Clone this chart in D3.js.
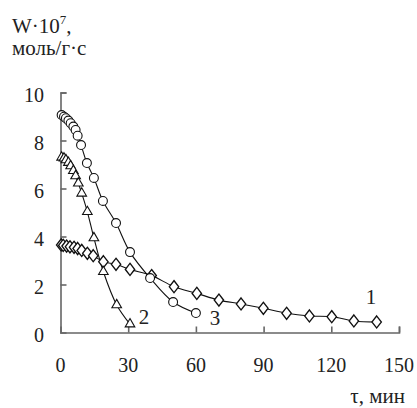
<!DOCTYPE html>
<html>
<head>
<meta charset="utf-8">
<script src="https://cdn.jsdelivr.net/npm/d3@7"></script>
<style>
  html, body { margin: 0; padding: 0; background: #fff; }
  #chart text { font-family: "Liberation Serif", "Times New Roman", "DejaVu Serif", serif; fill: #222; }
</style>
</head>
<body>
<svg id="chart" width="417" height="408"></svg>
<script>
// Reaction rate W·10^7 (моль/г·с) against time τ (мин), three runs.
const xTicks = [0, 30, 60, 90, 120, 150];
const yTicks = [0, 2, 4, 6, 8, 10];

// Run 1 (diamonds)
const t1 = [0.3, 1.2, 2.7, 4.2, 6, 7.6, 9.4, 11.9, 14.5, 19, 24.6, 30.8, 40.4, 50.3, 60.4, 70.2, 80, 89.9, 100.2, 110.3, 120.2, 130, 140.1];
const w1 = [3.65, 3.63, 3.6, 3.57, 3.55, 3.5, 3.42, 3.3, 3.2, 2.95, 2.84, 2.63, 2.37, 1.91, 1.63, 1.35, 1.19, 1.01, 0.8, 0.69, 0.66, 0.48, 0.44];

// Run 2 (triangles)
const t2 = [0.5, 1.55, 2.4, 3.5, 4.5, 5.7, 6.7, 7.9, 9.4, 11.9, 14.8, 19, 24.9, 30.8];
const w2 = [7.3, 7.26, 7.19, 7.08, 6.94, 6.74, 6.52, 6.22, 5.8, 5.03, 3.94, 2.53, 1.15, 0.35];

// Run 3 (circles)
const t3 = [0.5, 1.55, 2.4, 3.5, 4.5, 5.7, 6.7, 7.6, 9.1, 11.7, 14.8, 18.8, 24.6, 30.8, 39.7, 49.9, 60];
const w3 = [9.06, 8.99, 8.93, 8.83, 8.72, 8.58, 8.44, 8.2, 7.81, 7.06, 6.44, 5.48, 4.56, 3.35, 2.27, 1.27, 0.81];

const svg = d3.select("#chart");
const x = d3.scaleLinear().domain([0, 150]).range([60.5, 399]);
const y = d3.scaleLinear().domain([0, 10]).range([332.5, 92.5]);

const axisColor = "#666";

// Axes: ticks point inward, labels placed separately
const xAxis = svg.append("g").attr("transform", `translate(0,${y(0)})`)
  .call(d3.axisBottom(x).tickValues(xTicks).tickSize(-6).tickFormat(""));
const yAxis = svg.append("g").attr("transform", `translate(${x(0)},0)`)
  .call(d3.axisLeft(y).tickValues(yTicks).tickSize(-6).tickFormat(""));
[xAxis, yAxis].forEach(g => {
  g.select(".domain").attr("stroke", axisColor).attr("stroke-width", 1.6);
  g.selectAll(".tick line").attr("stroke", axisColor).attr("stroke-width", 1.6);
});
yAxis.selectAll(".tick").filter(d => d === 0).select("line").remove();
xAxis.selectAll(".tick").filter(d => d === 0).select("line").remove();

svg.append("g").selectAll("text").data(xTicks).join("text")
  .attr("x", d => x(d)).attr("y", 372)
  .attr("text-anchor", "middle").attr("font-size", 20)
  .text(d => d);

svg.append("g").selectAll("text").data(yTicks).join("text")
  .attr("x", 44).attr("y", d => y(d) + 9)
  .attr("text-anchor", "end").attr("font-size", 20)
  .text(d => d);

// Axis titles
const yTitle = svg.append("text").attr("x", 12).attr("y", 33).attr("font-size", 21);
yTitle.append("tspan").text("W·10");
yTitle.append("tspan").attr("dy", -9).attr("font-size", 13).text("7");
yTitle.append("tspan").attr("dy", 9).text(",");
svg.append("text").attr("x", 12).attr("y", 55).attr("font-size", 21).text("моль/г·с");

svg.append("text").attr("x", 405).attr("y", 403).attr("text-anchor", "end")
  .attr("font-size", 21).text("τ, мин");

// Curves with white-filled markers
const series = [
  { t: t1, w: w1, sym: d3.symbolDiamond, size: 42, label: "1", lx: 371, ly: 304 },
  { t: t2, w: w2, sym: d3.symbolTriangle, size: 40, label: "2", lx: 144, ly: 324 },
  { t: t3, w: w3, sym: d3.symbolCircle, size: 62, label: "3", lx: 215, ly: 325 }
];

const line = d3.line().x(d => x(d[0])).y(d => y(d[1])).curve(d3.curveCatmullRom.alpha(0.5));

series.forEach(s => {
  const pts = s.t.map((t, i) => [t, s.w[i]]);
  svg.append("path").datum(pts).attr("d", line)
    .attr("fill", "none").attr("stroke", "#111").attr("stroke-width", 1.1);
});

series.forEach(s => {
  const pts = s.t.map((t, i) => [t, s.w[i]]);
  const sym = d3.symbol().type(s.sym).size(s.size);
  svg.append("g").selectAll("path").data(pts).join("path")
    .attr("d", sym)
    .attr("transform", d => s.sym === d3.symbolDiamond
      ? `translate(${x(d[0])},${y(d[1])}) scale(1.35,1)`
      : `translate(${x(d[0])},${y(d[1])})`)
    .attr("fill", "#fff").attr("stroke", "#111").attr("stroke-width", 1.1);
  svg.append("text").attr("x", s.lx).attr("y", s.ly)
    .attr("text-anchor", "middle").attr("font-size", 21).text(s.label);
});
</script>
</body>
</html>
